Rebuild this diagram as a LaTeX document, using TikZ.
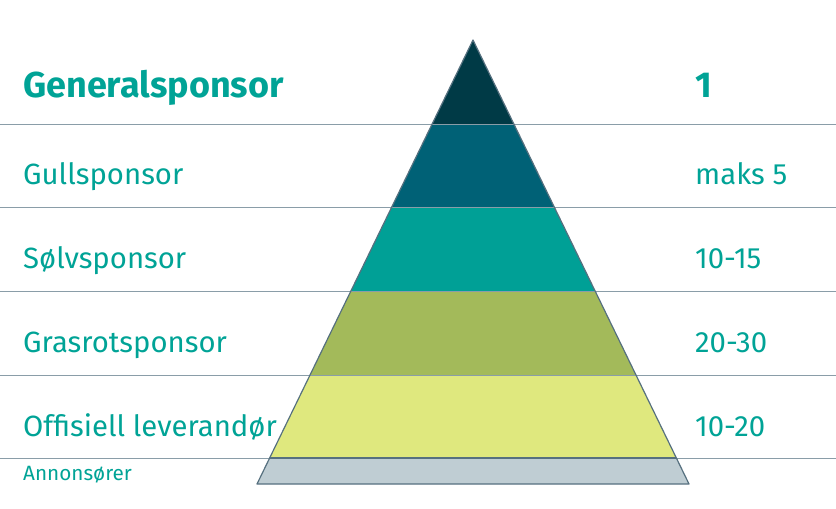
\documentclass[tikz,border=0pt]{standalone}
\usepackage{fontspec}
\setmainfont{Fira Sans}
\definecolor{tealtext}{HTML}{00A396}
\definecolor{rulegray}{HTML}{8A9DA8}
\definecolor{edgeslate}{HTML}{56707F}
\definecolor{tierA}{HTML}{003A46}
\definecolor{tierB}{HTML}{006176}
\definecolor{tierC}{HTML}{00A096}
\definecolor{tierD}{HTML}{A3BA5A}
\definecolor{tierE}{HTML}{DFE87E}
\definecolor{tierF}{HTML}{BFCDD3}
\tikzset{
  tiername/.style={anchor=base west, inner sep=0pt, text=tealtext, font=\fontsize{29.3}{32}\selectfont},
  tiercount/.style={tiername},
  tierhead/.style={tiername, font=\fontsize{36}{40}\selectfont\bfseries},
  tiersmall/.style={tiername, font=\fontsize{20.7}{24}\selectfont}
}
\begin{document}
\begin{tikzpicture}
    [x=1pt,y=-1pt]
    \useasboundingbox (0,0) rectangle (836,509);
    %pyramid tiers
    \fill[tierA] (473,40)--(513.9,124)--(432.1,124)--cycle;
    \fill[tierB] (432.1,124)--(513.9,124)--(554.2,207)--(391.8,207)--cycle;
    \fill[tierC] (391.8,207)--(554.2,207)--(595.1,291)--(350.9,291)--cycle;
    \fill[tierD] (350.9,291)--(595.1,291)--(636.0,375)--(310.0,375)--cycle;
    \fill[tierE] (310.0,375)--(636.0,375)--(676.4,458)--(269.6,458)--cycle;
    \fill[tierF] (269.6,458)--(676.4,458)--(689,484)--(257,484)--cycle;
    %separator rules
    \draw[rulegray, line width=1pt] (0,124)--(836,124);
    \draw[rulegray, line width=1pt] (0,207)--(836,207);
    \draw[rulegray, line width=1pt] (0,291)--(836,291);
    \draw[rulegray, line width=1pt] (0,375)--(836,375);
    \draw[rulegray, line width=1pt] (0,458)--(836,458);
    %pyramid outline
    \draw[edgeslate, line width=1.2pt, line join=round] (473,40)--(689,484)--(257,484)--cycle;
    \draw[edgeslate, line width=1.2pt] (269.6,458)--(676.4,458);
    %tier names
    \node[tierhead] (general) at (23,97) {Generalsponsor};
    \node[tiername] (gull) at (23,184) {Gullsponsor};
    \node[tiername] (solv) at (23,268) {Sølvsponsor};
    \node[tiername] (grasrot) at (23,352) {Grasrotsponsor};
    \node[tiername] (offisiell) at (23,436) {Offisiell leverandør};
    \node[tiersmall] (annonse) at (23,480) {Annonsører};
    %tier counts
    \node[tierhead] (generaln) at (695,97) {1};
    \node[tiercount] (gulln) at (695,184) {maks 5};
    \node[tiercount] (solvn) at (695,268) {10-15};
    \node[tiercount] (grasrotn) at (695,352) {20-30};
    \node[tiercount] (offisielln) at (695,436) {10-20};
\end{tikzpicture}
\end{document}
